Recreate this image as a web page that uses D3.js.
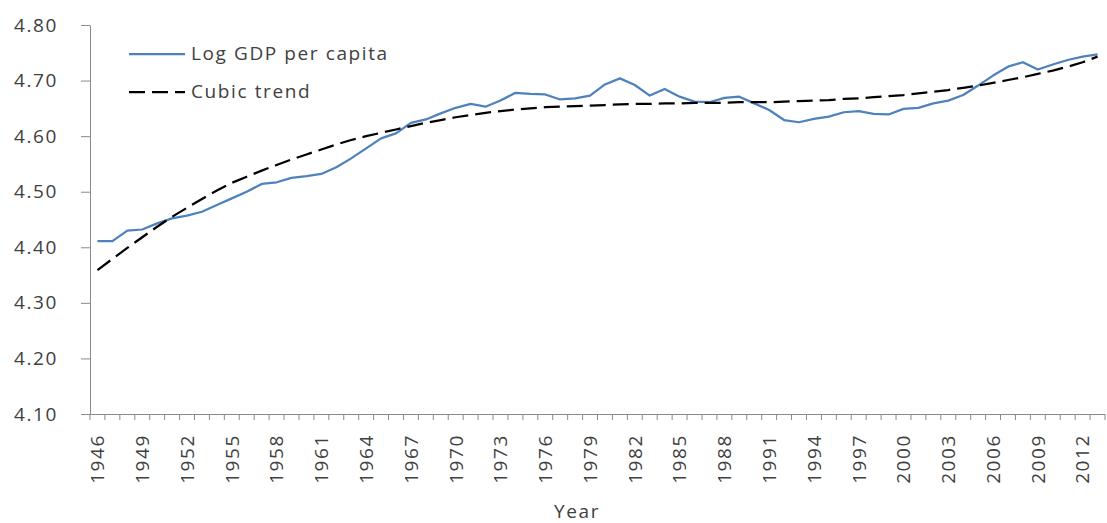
<!DOCTYPE html>
<html>
<head>
<meta charset="utf-8">
<script src="https://cdn.jsdelivr.net/npm/d3@7"></script>
<style>
  body { margin: 0; background: #fff; }
  text { font-family: "Open Sans", sans-serif; fill: #404040; }
</style>
</head>
<body>
<div id="chart"></div>
<script>
// data
var years = d3.range(1946, 2014);
var logGdp = [4.411, 4.411, 4.430, 4.432, 4.443, 4.452, 4.457, 4.464, 4.476, 4.488,
              4.500, 4.514, 4.517, 4.525, 4.528, 4.532, 4.544, 4.560, 4.578, 4.596,
              4.605, 4.624, 4.630, 4.641, 4.651, 4.658, 4.653, 4.664, 4.678, 4.676,
              4.675, 4.666, 4.668, 4.673, 4.693, 4.704, 4.692, 4.673, 4.685, 4.671,
              4.662, 4.661, 4.669, 4.671, 4.659, 4.647, 4.629, 4.625, 4.631, 4.635,
              4.643, 4.645, 4.640, 4.639, 4.649, 4.651, 4.659, 4.664, 4.674, 4.691,
              4.709, 4.725, 4.733, 4.720, 4.729, 4.737, 4.743, 4.747];
var cubicTrend = [4.359, 4.379, 4.399, 4.418, 4.437, 4.455, 4.471, 4.487, 4.502, 4.516,
                  4.527, 4.538, 4.548, 4.558, 4.567, 4.576, 4.585, 4.593, 4.600, 4.606,
                  4.612, 4.618, 4.624, 4.629, 4.634, 4.638, 4.642, 4.645, 4.648, 4.650,
                  4.652, 4.653, 4.654, 4.655, 4.656, 4.657, 4.658, 4.658, 4.659, 4.659,
                  4.660, 4.660, 4.660, 4.661, 4.661, 4.661, 4.662, 4.663, 4.664, 4.665,
                  4.667, 4.668, 4.670, 4.672, 4.674, 4.677, 4.680, 4.683, 4.687, 4.691,
                  4.696, 4.701, 4.706, 4.712, 4.718, 4.725, 4.733, 4.743];
var yTicks = [4.10, 4.20, 4.30, 4.40, 4.50, 4.60, 4.70, 4.80];
var xLabelYears = years.filter(function(d) { return (d - 1946) % 3 == 0; });

var W = 1107, H = 523;
var plotLeft = 90, plotRight = 1105, plotTop = 25, plotBottom = 414;
var fontSize = "19px", spacing = "1.6px";

var svg = d3.select("#chart").append("svg").attr("width", W).attr("height", H);

var x = d3.scaleBand().domain(years).range([plotLeft, plotRight]);
var y = d3.scaleLinear().domain([4.1, 4.8]).range([plotBottom, plotTop]);
var bw = x.bandwidth();

// y axis
var yAxis = d3.axisLeft(y).tickValues(yTicks).tickFormat(d3.format(".2f"))
              .tickSize(9).tickSizeOuter(0).tickPadding(23);
var gy = svg.append("g").attr("transform", "translate(" + plotLeft + ",0)").call(yAxis);
gy.select(".domain").attr("stroke", "#8a8a8a");
gy.selectAll(".tick line").attr("stroke", "#8a8a8a");
gy.selectAll(".tick text").style("font-size", fontSize).style("letter-spacing", spacing)
  .attr("fill", "#404040");

// x axis, ticks between categories
var xAxis = d3.axisBottom(x).tickSize(6).tickSizeOuter(0)
              .tickFormat(function(d) { return xLabelYears.indexOf(d) >= 0 ? d : ""; });
var gx = svg.append("g").attr("transform", "translate(0," + plotBottom + ")").call(xAxis);
gx.select(".domain").attr("stroke", "#8a8a8a").attr("d", "M" + (plotLeft - 9) + ",0.5H" + plotRight);
gx.selectAll(".tick line").attr("stroke", "#8a8a8a").attr("x1", -bw / 2).attr("x2", -bw / 2);
gx.append("line").attr("x1", plotRight).attr("x2", plotRight).attr("y1", 0).attr("y2", 6)
  .attr("stroke", "#8a8a8a");
gx.selectAll(".tick text")
  .attr("transform", "rotate(-90)")
  .attr("x", -20).attr("y", 0).attr("dy", "0.36em")
  .attr("text-anchor", "end")
  .style("font-size", fontSize).style("letter-spacing", spacing).attr("fill", "#404040");

// axis title
svg.append("text").attr("x", 577).attr("y", 518).attr("text-anchor", "middle")
   .style("font-size", fontSize).style("letter-spacing", spacing).text("Year");

// lines
var line = function(vals) {
  return d3.line()
    .x(function(d, i) { return x(years[i]) + bw / 2; })
    .y(function(d) { return y(d); })(vals);
};

svg.append("path").attr("d", line(logGdp))
   .attr("fill", "none").attr("stroke", "#4f81bd").attr("stroke-width", 2.25)
   .attr("stroke-linejoin", "round");
svg.append("path").attr("d", line(cubicTrend))
   .attr("fill", "none").attr("stroke", "#000").attr("stroke-width", 2.25)
   .attr("stroke-dasharray", "16,7");

// legend
var legend = svg.append("g");
legend.append("line").attr("x1", 129).attr("x2", 185).attr("y1", 54).attr("y2", 54)
  .attr("stroke", "#4f81bd").attr("stroke-width", 2.25);
legend.append("text").attr("x", 191).attr("y", 60).style("font-size", fontSize)
  .style("letter-spacing", spacing).text("Log GDP per capita");
legend.append("line").attr("x1", 129).attr("x2", 185).attr("y1", 92).attr("y2", 92)
  .attr("stroke", "#000").attr("stroke-width", 2.25).attr("stroke-dasharray", "16,7");
legend.append("text").attr("x", 191).attr("y", 98).style("font-size", fontSize)
  .style("letter-spacing", spacing).text("Cubic trend");
</script>
</body>
</html>
